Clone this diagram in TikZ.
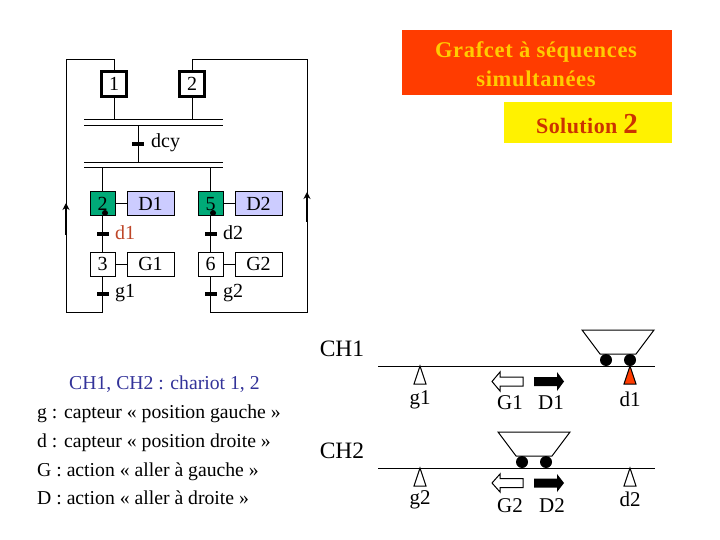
\documentclass[tikz,border=0pt]{standalone}
\usepackage{fontspec}
\setmainfont{Liberation Serif}
\usetikzlibrary{arrows.meta}
\definecolor{titrerouge}{RGB}{255,60,0}
\definecolor{titreor}{RGB}{255,204,0}
\definecolor{solrouge}{RGB}{204,51,0}
\definecolor{etapevert}{RGB}{0,170,120}
\definecolor{actionbleu}{RGB}{204,204,255}
\definecolor{capteurrouge}{RGB}{190,70,40}
\definecolor{legendebleu}{RGB}{51,51,153}
\tikzset{
	initbox/.style={draw, line width=3pt, minimum size=24.5pt, inner sep=0pt, font=\fontsize{20}{20}\selectfont},
	stepbox/.style={draw, line width=1pt, minimum width=25pt, minimum height=24pt, inner sep=0pt, font=\fontsize{20}{20}\selectfont},
	actionbox/.style={stepbox, minimum width=47pt},
	tick/.style={fill=black, minimum width=12pt, minimum height=3.5pt, inner sep=0pt},
	token/.style={circle, fill=black, minimum size=6pt, inner sep=0pt},
	txt/.style={inner sep=0pt, font=\fontsize{20}{20}\selectfont},
	bigtxt/.style={inner sep=0pt, font=\fontsize{21}{21}\selectfont},
	chtxt/.style={inner sep=0pt, font=\fontsize{23.5}{23.5}\selectfont},
	legende/.style={inner sep=0pt, anchor=base west, font=\fontsize{19.7}{20}\selectfont},
	loopup/.style={line width=2pt, -{Stealth[length=7pt,width=7pt]}},
	wheel/.style={circle, fill=black, minimum size=12pt, inner sep=0pt},
	line/.style={line width=1pt}
}
\begin{document}
\begin{tikzpicture}[x=1pt,y=-1pt]
	\useasboundingbox (0,0) rectangle (720,540);
	% Titre
	\node[fill=titrerouge, minimum width=270pt, minimum height=65pt, inner sep=0pt] (titre) at (537,62.5) {};
	\node[align=center, text=titreor, inner sep=0pt,
		font=\bfseries\fontsize{22.5}{29.5}\selectfont\addfontfeatures{LetterSpace=3}] (titretxt) at (536,64) {Grafcet à séquences\\simultanées};
	\node[fill=yellow, minimum width=168pt, minimum height=41pt, inner sep=0pt] (solution) at (588,122.5) {};
	\node[text=solrouge, inner sep=0pt, font=\bfseries\fontsize{22}{22}\selectfont\addfontfeatures{LetterSpace=2}] (soltxt) at (587,124) {Solution \fontsize{29}{29}\selectfont 2};

	% Etapes initiales
	\node[initbox] (init1) at (114,84) {1};
	\node[initbox] (init2) at (192,84) {2};
	\coordinate (barA) at (84,120);
	\coordinate (barB) at (223,126);
	\coordinate (barC) at (84,163);
	\coordinate (barD) at (223,168);
	\draw[line] (barA) -- (barA -| barD);
	\draw[line] (barA |- barB) -- (barB);
	\draw[line] (barC) -- (barC -| barD);
	\draw[line] (barC |- barD) -- (barD);
	\draw[line] (init1) -- (init1 |- barA);
	\draw[line] (init2) -- (init2 |- barA);
	\node[tick] (tdcy) at (138,144) {};
	\node[txt, anchor=west] (dcy) at (151,143) {dcy};
	\draw[line] (tdcy |- barB) -- (tdcy |- barC);

	% Branche gauche
	\node[stepbox, fill=etapevert] (step2) at (102.5,204) {2};
	\node[actionbox, fill=actionbleu] (actD1) at (150.5,204) {D1};
	\node[stepbox] (step3) at (102.5,264) {3};
	\node[actionbox] (actG1) at (150.5,264) {G1};
	\node[token] (tok2) at (105,213) {};
	\node[tick] (td1) at (102.5,234) {};
	\node[tick] (tg1) at (102.5,294) {};
	\node[txt, anchor=west, text=capteurrouge] (d1) at (115,233) {d1};
	\node[txt, anchor=west] (g1) at (115,293) {g1};
	\draw[line] (step2 |- barD) -- (step2);
	\draw[line] (step2) -- (actD1);
	\draw[line] (step2) -- (step3);
	\draw[line] (step3) -- (actG1);
	\coordinate (basA) at (102.5,312);
	\coordinate (basB) at (66,312);
	\coordinate (hautA) at (66,60);
	\draw[line] (step3) -- (basA) -- (basB) -- (hautA) -- (hautA -| init1) -- (init1);

	% Branche droite
	\node[stepbox, fill=etapevert] (step5) at (210.5,204) {5};
	\node[actionbox, fill=actionbleu] (actD2) at (258.5,204) {D2};
	\node[stepbox] (step6) at (210.5,264) {6};
	\node[actionbox] (actG2) at (258.5,264) {G2};
	\node[token] (tok5) at (213,213) {};
	\node[tick] (td2) at (210.5,234) {};
	\node[tick] (tg2) at (210.5,294) {};
	\node[txt, anchor=west] (d2) at (223,233) {d2};
	\node[txt, anchor=west] (g2) at (223,293) {g2};
	\draw[line] (step5 |- barD) -- (step5);
	\draw[line] (step5) -- (actD2);
	\draw[line] (step5) -- (step6);
	\draw[line] (step6) -- (actG2);
	\coordinate (basC) at (210.5,312);
	\coordinate (basD) at (307,312);
	\coordinate (hautB) at (307,60);
	\draw[line] (step6) -- (basC) -- (basD) -- (hautB) -- (hautB -| init2) -- (init2);
	\draw[loopup] (66,235) -- (66,203);
	\draw[loopup] (307,222) -- (307,192);

	% Legende
	\node[legende, text=legendebleu] (leg1) at (69,389) {CH1, CH2 : chariot 1, 2};
	\node[legende] (leg2) at (37,418) {g : capteur « position gauche »};
	\node[legende] (leg3) at (37,447) {d : capteur « position droite »};
	\node[legende] (leg4) at (37,476) {G : action « aller à gauche »};
	\node[legende] (leg5) at (37,504) {D : action « aller à droite »};

	% Chariot 1
	\node[chtxt] (ch1) at (342,349) {CH1};
	\draw[line] (378,366) -- (655,366);
	\draw[line, fill=white] (420,366) -- (414,384) -- (426,384) -- cycle;
	\draw[line, fill=titrerouge] (630,366) -- (624,384) -- (636,384) -- cycle;
	\draw[line] (582,330) -- (654,330) -- (636,354) -- (600,354) -- cycle;
	\node[wheel] (w1) at (606,360) {};
	\node[wheel] (w2) at (630,360) {};
	\draw[line] (523,377) -- (500,377) -- (500,372) -- (492,381.5) -- (500,391) -- (500,386) -- (523,386) -- cycle;
	\fill (534,377) -- (557,377) -- (557,372) -- (564,381.5) -- (557,391) -- (557,386) -- (534,386) -- cycle;
	\node[bigtxt] (lg1) at (420,400) {g1};
	\node[bigtxt] (lG1) at (510,403) {G1};
	\node[bigtxt] (lD1) at (551,403) {D1};
	\node[bigtxt] (ld1) at (630,399) {d1};

	% Chariot 2
	\node[chtxt] (ch2) at (342,451) {CH2};
	\draw[line] (378,468) -- (655,468);
	\draw[line, fill=white] (420,468) -- (414,486) -- (426,486) -- cycle;
	\draw[line, fill=white] (630,468) -- (624,486) -- (636,486) -- cycle;
	\draw[line] (498,432) -- (570,432) -- (552,456) -- (516,456) -- cycle;
	\node[wheel] (w3) at (522,462) {};
	\node[wheel] (w4) at (546,462) {};
	\draw[line] (523,478.5) -- (500,478.5) -- (500,474) -- (492,483) -- (500,492) -- (500,487.5) -- (523,487.5) -- cycle;
	\fill (534,478.5) -- (557,478.5) -- (557,474) -- (564,483) -- (557,492) -- (557,487.5) -- (534,487.5) -- cycle;
	\node[bigtxt] (lg2) at (420,500) {g2};
	\node[bigtxt] (lG2) at (510,506) {G2};
	\node[bigtxt] (lD2) at (552,506) {D2};
	\node[bigtxt] (ld2) at (630,499) {d2};
\end{tikzpicture}
\end{document}
